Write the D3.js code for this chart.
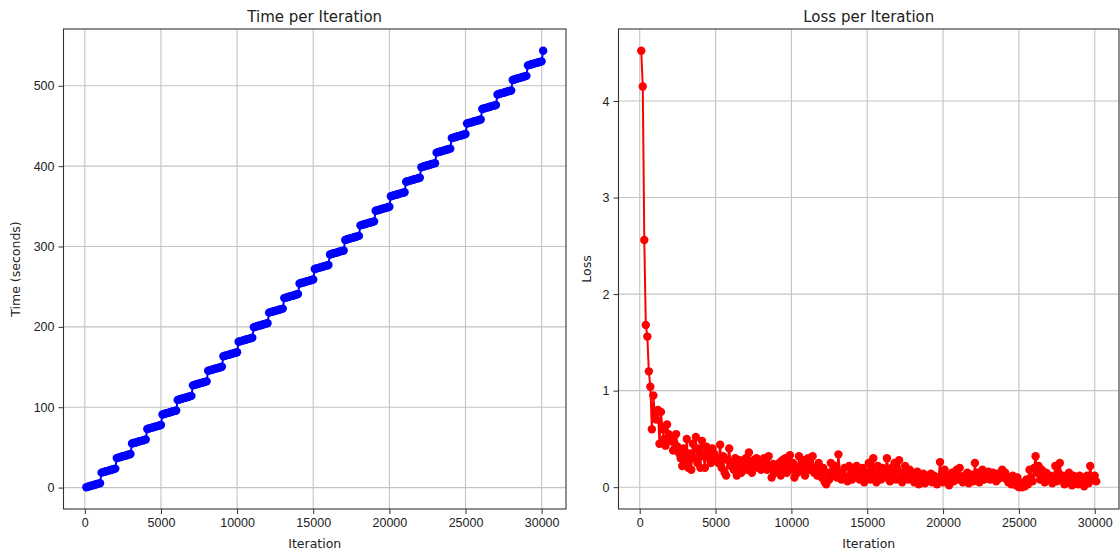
<!DOCTYPE html>
<html lang="en">
<head>
<meta charset="utf-8">
<title>Time and Loss per Iteration</title>
<script src="https://d3js.org/d3.v7.min.js"></script>
<style>
  body { margin: 0; background: #fff; }
  svg { display: block; font-family: "DejaVu Sans", sans-serif; }
  .tick text { fill: #222; }
</style>
</head>
<body>
<div id="chart"></div>
<script>
// logged every 100 iterations, first entry at 100
const iterStart = 100;
const iterStep = 100;

// wall-clock seconds at each logged iteration
const timeSeconds = [
  0.5, 1.1, 1.6, 2.2, 2.7, 3.3, 3.8, 4.4, 4.9, 5.5,
  18.6, 19.2, 19.7, 20.3, 20.8, 21.4, 21.9, 22.5, 23.0, 23.6,
  36.7, 37.3, 37.8, 38.4, 38.9, 39.5, 40.0, 40.6, 41.1, 41.7,
  54.8, 55.4, 55.9, 56.5, 57.0, 57.6, 58.1, 58.7, 59.2, 59.8,
  72.9, 73.5, 74.0, 74.6, 75.1, 75.7, 76.2, 76.8, 77.3, 77.9,
  91.0, 91.6, 92.1, 92.7, 93.2, 93.8, 94.3, 94.9, 95.4, 96.0,
  109.1, 109.7, 110.2, 110.8, 111.3, 111.9, 112.4, 113.0, 113.5, 114.1,
  127.2, 127.8, 128.3, 128.9, 129.4, 130.0, 130.5, 131.1, 131.6, 132.2,
  145.3, 145.9, 146.4, 147.0, 147.5, 148.1, 148.6, 149.2, 149.7, 150.3,
  163.4, 164.0, 164.5, 165.1, 165.6, 166.2, 166.7, 167.3, 167.8, 168.4,
  181.5, 182.1, 182.6, 183.2, 183.7, 184.3, 184.8, 185.4, 185.9, 186.5,
  199.6, 200.2, 200.7, 201.3, 201.8, 202.4, 202.9, 203.5, 204.0, 204.6,
  217.7, 218.3, 218.8, 219.4, 219.9, 220.5, 221.0, 221.6, 222.1, 222.7,
  235.8, 236.4, 236.9, 237.5, 238.0, 238.6, 239.1, 239.7, 240.2, 240.8,
  253.9, 254.5, 255.0, 255.6, 256.1, 256.7, 257.2, 257.8, 258.3, 258.9,
  272.0, 272.6, 273.1, 273.7, 274.2, 274.8, 275.3, 275.9, 276.4, 277.0,
  290.1, 290.7, 291.2, 291.8, 292.3, 292.9, 293.4, 294.0, 294.5, 295.1,
  308.2, 308.8, 309.3, 309.9, 310.4, 311.0, 311.5, 312.1, 312.6, 313.2,
  326.3, 326.9, 327.4, 328.0, 328.5, 329.1, 329.6, 330.2, 330.7, 331.3,
  344.4, 345.0, 345.5, 346.1, 346.6, 347.2, 347.7, 348.3, 348.8, 349.4,
  362.5, 363.1, 363.6, 364.2, 364.7, 365.3, 365.8, 366.4, 366.9, 367.5,
  380.6, 381.2, 381.7, 382.3, 382.8, 383.4, 383.9, 384.5, 385.0, 385.6,
  398.7, 399.3, 399.8, 400.4, 400.9, 401.5, 402.0, 402.6, 403.1, 403.7,
  416.8, 417.4, 417.9, 418.5, 419.0, 419.6, 420.1, 420.7, 421.2, 421.8,
  434.9, 435.5, 436.0, 436.6, 437.1, 437.7, 438.2, 438.8, 439.3, 439.9,
  453.0, 453.6, 454.1, 454.7, 455.2, 455.8, 456.3, 456.9, 457.4, 458.0,
  471.1, 471.7, 472.2, 472.8, 473.3, 473.9, 474.4, 475.0, 475.5, 476.1,
  489.2, 489.8, 490.3, 490.9, 491.4, 492.0, 492.5, 493.1, 493.6, 494.2,
  507.3, 507.9, 508.4, 509.0, 509.5, 510.1, 510.6, 511.2, 511.7, 512.3,
  525.4, 526.0, 526.5, 527.1, 527.6, 528.2, 528.7, 529.3, 529.8, 530.4,
  543.5
];

// training loss at each logged iteration
const lossValues = [
  4.52, 4.15, 2.56, 1.68, 1.56, 1.20, 1.04, 0.60, 0.95, 0.74,
  0.70, 0.80, 0.45, 0.78, 0.60, 0.50, 0.43, 0.65, 0.55, 0.48,
  0.52, 0.38, 0.45, 0.55, 0.42, 0.35, 0.30, 0.22, 0.40, 0.28,
  0.50, 0.20, 0.35, 0.18, 0.45, 0.30, 0.52, 0.25, 0.40, 0.20,
  0.48, 0.32, 0.20, 0.42, 0.38, 0.30, 0.25, 0.40, 0.35, 0.28,
  0.30, 0.25, 0.44, 0.20, 0.32, 0.15, 0.12, 0.28, 0.40, 0.22,
  0.25, 0.18, 0.30, 0.12, 0.22, 0.28, 0.15, 0.20, 0.24, 0.30,
  0.18, 0.36, 0.25, 0.15, 0.28, 0.22, 0.30, 0.20, 0.26, 0.18,
  0.22, 0.30, 0.25, 0.18, 0.32, 0.20, 0.10, 0.24, 0.15, 0.20,
  0.18, 0.25, 0.12, 0.28, 0.20, 0.30, 0.15, 0.22, 0.33, 0.18,
  0.25, 0.10, 0.20, 0.15, 0.32, 0.22, 0.18, 0.28, 0.12, 0.24,
  0.30, 0.18, 0.22, 0.32, 0.15, 0.20, 0.12, 0.25, 0.18, 0.10,
  0.20, 0.05, 0.03, 0.15, 0.08, 0.25, 0.12, 0.18, 0.22, 0.10,
  0.34, 0.15, 0.08, 0.12, 0.20, 0.10, 0.06, 0.22, 0.14, 0.08,
  0.18, 0.10, 0.22, 0.15, 0.08, 0.12, 0.20, 0.05, 0.15, 0.10,
  0.25, 0.08, 0.18, 0.30, 0.12, 0.05, 0.22, 0.15, 0.08, 0.20,
  0.10, 0.18, 0.30, 0.15, 0.06, 0.20, 0.12, 0.25, 0.08, 0.18,
  0.28, 0.10, 0.05, 0.15, 0.22, 0.12, 0.08, 0.18, 0.10, 0.15,
  0.05, 0.12, 0.16, 0.03, 0.10, 0.08, 0.14, 0.04, 0.12, 0.06,
  0.10, 0.14, 0.05, 0.12, 0.08, 0.03, 0.10, 0.26, 0.12, 0.05,
  0.18, 0.08, 0.12, 0.02, 0.10, 0.15, 0.06, 0.12, 0.18, 0.08,
  0.20, 0.10, 0.05, 0.12, 0.08, 0.15, 0.04, 0.10, 0.13, 0.06,
  0.25, 0.10, 0.15, 0.05, 0.12, 0.18, 0.08, 0.14, 0.10, 0.16,
  0.08, 0.12, 0.15, 0.10, 0.06, 0.14, 0.09, 0.12, 0.18, 0.10,
  0.15, 0.08, 0.05, 0.10, 0.03, 0.12, 0.06, 0.02, 0.10, 0.00,
  0.02, 0.00, 0.05, 0.01, 0.08, 0.03, 0.18, 0.10, 0.06, 0.20,
  0.32, 0.15, 0.22, 0.08, 0.18, 0.12, 0.05, 0.15, 0.10, 0.08,
  0.12, 0.04, 0.10, 0.22, 0.06, 0.15, 0.25, 0.08, 0.12, 0.03,
  0.10, 0.05, 0.15, 0.08, 0.02, 0.12, 0.06, 0.10, 0.03, 0.12,
  0.05, 0.10, 0.01, 0.08, 0.12, 0.04, 0.22, 0.10, 0.08, 0.12,
  0.06
];

const xTicks = [0, 5000, 10000, 15000, 20000, 25000, 30000];
const timeTicks = [0, 100, 200, 300, 400, 500];
const lossTicks = [0, 1, 2, 3, 4];

const width = 1120, height = 550;
const svg = d3.select("#chart").append("svg")
    .attr("width", width)
    .attr("height", height);

function pad(ext) {
  const r = ext[1] - ext[0];
  return [ext[0] - r * 0.05, ext[1] + r * 0.05];
}

function panel(opts) {
  const { left, right, top, bottom, values, color, title, ylabel, yticks } = opts;
  const pts = values.map((v, i) => ({ x: iterStart + i * iterStep, y: v }));

  const x = d3.scaleLinear().domain(pad(d3.extent(pts, d => d.x))).range([left, right]);
  const y = d3.scaleLinear().domain(pad(d3.extent(pts, d => d.y))).range([bottom, top]);

  const g = svg.append("g");

  // grid
  g.append("g").selectAll("line").data(xTicks).join("line")
      .attr("x1", d => x(d)).attr("x2", d => x(d))
      .attr("y1", top).attr("y2", bottom)
      .attr("stroke", "#c4c4c4").attr("stroke-width", 1.1);
  g.append("g").selectAll("line").data(yticks).join("line")
      .attr("x1", left).attr("x2", right)
      .attr("y1", d => y(d)).attr("y2", d => y(d))
      .attr("stroke", "#c4c4c4").attr("stroke-width", 1.1);

  // data
  g.append("path").datum(pts)
      .attr("fill", "none")
      .attr("stroke", color)
      .attr("stroke-width", 2)
      .attr("d", d3.line().x(d => x(d.x)).y(d => y(d.y)));
  g.append("g").selectAll("circle").data(pts).join("circle")
      .attr("cx", d => x(d.x))
      .attr("cy", d => y(d.y))
      .attr("r", 4.2)
      .attr("fill", color);

  // axes
  const ax = g.append("g")
      .attr("transform", `translate(0,${bottom})`)
      .call(d3.axisBottom(x).tickValues(xTicks).tickFormat(d3.format("d")).tickSize(5).tickPadding(4));
  const ay = g.append("g")
      .attr("transform", `translate(${left},0)`)
      .call(d3.axisLeft(y).tickValues(yticks).tickFormat(d3.format("d")).tickSize(5).tickPadding(4));
  [ax, ay].forEach(a => {
    a.select(".domain").remove();
    a.selectAll(".tick line").attr("stroke", "#333").attr("stroke-width", 1);
    a.selectAll(".tick text").attr("font-size", 12.5);
  });

  // frame
  g.append("rect")
      .attr("x", left).attr("y", top)
      .attr("width", right - left).attr("height", bottom - top)
      .attr("fill", "none").attr("stroke", "#333").attr("stroke-width", 1.1);

  g.append("text")
      .attr("x", (left + right) / 2).attr("y", top - 7)
      .attr("text-anchor", "middle")
      .attr("font-size", 15).attr("fill", "#222")
      .text(title);
  g.append("text")
      .attr("x", (left + right) / 2).attr("y", bottom + 39)
      .attr("text-anchor", "middle")
      .attr("font-size", 12.5).attr("fill", "#222")
      .text("Iteration");
  g.append("text")
      .attr("transform", `translate(${opts.ylabelX},${(top + bottom) / 2}) rotate(-90)`)
      .attr("text-anchor", "middle")
      .attr("font-size", 12.5).attr("fill", "#222")
      .text(ylabel);
}

panel({
  left: 63.5, right: 566, top: 29, bottom: 509,
  values: timeSeconds, color: "#0000ff",
  title: "Time per Iteration", ylabel: "Time (seconds)",
  yticks: timeTicks, ylabelX: 20
});

panel({
  left: 618.5, right: 1119, top: 29, bottom: 509,
  values: lossValues, color: "#ff0000",
  title: "Loss per Iteration", ylabel: "Loss",
  yticks: lossTicks, ylabelX: 591
});
</script>
</body>
</html>
